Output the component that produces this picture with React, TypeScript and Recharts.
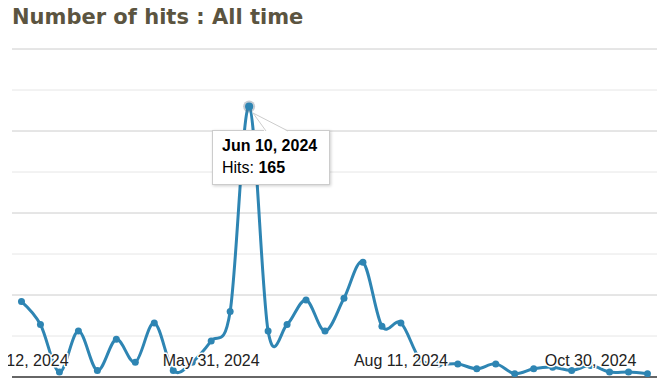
import React from 'react';
import { LineChart, Line, XAxis, YAxis, CartesianGrid, Tooltip } from 'recharts';

const dates = [
  'Mar 12, 2024', 'Mar 20, 2024', 'Mar 28, 2024', 'Apr 5, 2024', 'Apr 13, 2024',
  'Apr 21, 2024', 'Apr 29, 2024', 'May 7, 2024', 'May 15, 2024', 'May 23, 2024',
  'May 31, 2024', 'Jun 5, 2024', 'Jun 10, 2024', 'Jun 18, 2024', 'Jun 26, 2024',
  'Jul 4, 2024', 'Jul 12, 2024', 'Jul 20, 2024', 'Jul 28, 2024', 'Aug 4, 2024',
  'Aug 11, 2024', 'Aug 19, 2024', 'Aug 27, 2024', 'Sep 4, 2024', 'Sep 12, 2024',
  'Sep 20, 2024', 'Sep 28, 2024', 'Oct 6, 2024', 'Oct 14, 2024', 'Oct 22, 2024',
  'Oct 30, 2024', 'Nov 7, 2024', 'Nov 15, 2024', 'Nov 23, 2024',
];

const hits = [
  46, 32, 3, 28, 4, 23, 9, 33, 4, 9,
  22, 40, 165, 28, 32, 47, 28, 48, 70, 31,
  33, 11, 8, 8, 5, 8, 2, 5, 6, 4,
  7, 3, 3, 2,
];

const tickIndices = [0, 10, 20, 30];
const majorGrid = [0, 50, 100, 150, 200];
const minorGrid = [25, 75, 125, 175];
const highlightIndex = 12;

const data = hits.map((h, i) => ({ idx: i, date: dates[i], hits: h }));

const LINE_COLOR = '#2e85b3';

// Cardinal (Catmull-Rom like) curve factory, similar to Google's "function" curve
function makeCardinal(tension: number) {
  const k = (1 - tension) / 6;
  return (context: any) => {
    let x0 = NaN, y0 = NaN, x1 = NaN, y1 = NaN, x2 = NaN, y2 = NaN;
    let pt = 0;
    let line: number = NaN;
    const bez = (x: number, y: number) => {
      context.bezierCurveTo(
        x1 + k * (x2 - x0),
        y1 + k * (y2 - y0),
        x2 + k * (x1 - x),
        y2 + k * (y1 - y),
        x2,
        y2
      );
    };
    return {
      areaStart() { line = 0; },
      areaEnd() { line = NaN; },
      lineStart() { x0 = x1 = x2 = y0 = y1 = y2 = NaN; pt = 0; },
      lineEnd() {
        if (pt === 2) context.lineTo(x2, y2);
        else if (pt === 3) bez(x1, y1);
        if (line || (line !== 0 && pt === 1)) context.closePath();
        line = 1 - line;
      },
      point(xx: number, yy: number) {
        const x = +xx, y = +yy;
        switch (pt) {
          case 0:
            pt = 1;
            if (line) context.lineTo(x, y); else context.moveTo(x, y);
            break;
          case 1:
            pt = 2; x1 = x; y1 = y;
            break;
          case 2:
            pt = 3;
            bez(x, y);
            break;
          default:
            bez(x, y);
            break;
        }
        x0 = x1; x1 = x2; x2 = x;
        y0 = y1; y1 = y2; y2 = y;
      },
    };
  };
}

const cardinal = makeCardinal(0);

const DateTick = (props: any) => {
  const { x, y, payload } = props;
  return (
    <text
      x={x}
      y={Number(y) - 11}
      textAnchor="middle"
      fontFamily="Arial, 'Liberation Sans', sans-serif"
      fontSize={16}
      fill="#222"
      stroke="#fff"
      strokeWidth={3}
      strokeLinejoin="round"
      paintOrder="stroke"
    >
      {dates[payload.value]}
    </text>
  );
};

const TipBox = (props: any) => {
  const { active, payload } = props;
  if (!active || !payload || !payload.length) return null;
  const row = payload[0].payload;
  return (
    <div
      style={{
        position: 'relative',
        width: 118,
        height: 55,
        boxSizing: 'border-box',
        background: '#fff',
        border: '1px solid #cccccc',
        boxShadow: '1px 1px 3px rgba(0,0,0,0.2)',
        fontFamily: "Arial, 'Liberation Sans', sans-serif",
        fontSize: 16,
        color: '#000',
      }}
    >
      <svg
        width={60}
        height={24}
        style={{ position: 'absolute', left: 0, top: -20, overflow: 'visible' }}
      >
        <polygon points="52,21 40,2 76,21" fill="#fff" />
        <polyline points="53,20 40,2 75,20" fill="none" stroke="#cccccc" strokeWidth={1} />
      </svg>
      <div style={{ position: 'absolute', left: 9, top: 6, lineHeight: '18px', fontWeight: 'bold', whiteSpace: 'nowrap' }}>
        {row.date}
      </div>
      <div style={{ position: 'absolute', left: 9, top: 28, lineHeight: '18px', whiteSpace: 'nowrap' }}>
        Hits: <b>{row.hits}</b>
      </div>
    </div>
  );
};

const ActiveDot = (props: any) => {
  const { cx, cy } = props;
  return (
    <g>
      <circle cx={cx} cy={cy} r={6} fill="rgba(90,110,130,0.35)" />
      <circle cx={cx} cy={cy} r={4} fill={LINE_COLOR} />
    </g>
  );
};

export default function App() {
  return (
    <div style={{ position: 'absolute', left: 0, top: 0, width: 663, height: 384, background: '#fff' }}>
      <div
        style={{
          position: 'absolute',
          left: 12,
          top: 5,
          fontFamily: "'DejaVu Sans', Verdana, sans-serif",
          fontWeight: 'bold',
          fontSize: 21,
          lineHeight: 'normal',
          color: '#5b5440',
          whiteSpace: 'nowrap',
          zIndex: 2,
        }}
      >
        Number of hits : All time
      </div>
      <div style={{ position: 'absolute', left: 8, top: 0 }}>
        <LineChart
          width={655}
          height={384}
          data={data}
          margin={{ top: 49, right: 6, bottom: 5, left: 4 }}
        >
          <CartesianGrid vertical={false} horizontalValues={minorGrid} stroke="#e6e6e6" syncWithTicks={false} />
          <CartesianGrid vertical={false} horizontalValues={majorGrid} stroke="#cccccc" syncWithTicks={false} />
          <YAxis hide width={0} domain={[0, 200]} allowDataOverflow type="number" />
          <Line
            dataKey="hits"
            type={cardinal as any}
            stroke={LINE_COLOR}
            strokeWidth={3}
            dot={{ r: 3.5, fill: LINE_COLOR, stroke: LINE_COLOR, strokeWidth: 0 }}
            activeDot={<ActiveDot />}
            isAnimationActive={false}
          />
          <XAxis
            dataKey="idx"
            type="number"
            domain={[-0.5, 33.5]}
            ticks={tickIndices}
            interval={0}
            height={2}
            tickSize={0}
            tickMargin={0}
            tickLine={false}
            axisLine={{ stroke: '#333', strokeWidth: 1.5 }}
            tick={<DateTick />}
            allowDataOverflow
          />
          <Tooltip
            active
            defaultIndex={highlightIndex}
            cursor={false}
            position={{ x: 204, y: 130 }}
            isAnimationActive={false}
            content={<TipBox />}
            wrapperStyle={{ outline: 'none' }}
          />
        </LineChart>
      </div>
    </div>
  );
}
